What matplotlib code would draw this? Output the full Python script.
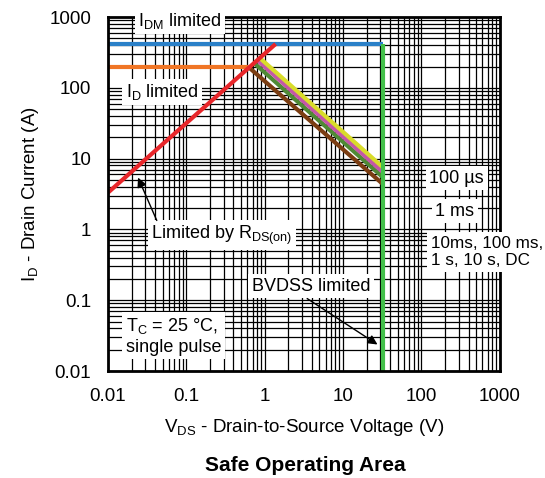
import numpy as np
import matplotlib.pyplot as plt
from matplotlib.ticker import LogLocator, NullFormatter

plt.rcParams['font.family'] = ['Liberation Sans', 'DejaVu Sans']
plt.rcParams['mathtext.fontset'] = 'custom'
plt.rcParams['mathtext.rm'] = 'Liberation Sans'
plt.rcParams['mathtext.it'] = 'Liberation Sans'

# limit lines (V, A)
idm_v = [0.01, 32]
idm_i = [416, 416]
id_v = [0.01, 0.61]
id_i = [200, 200]
rds_v = [0.01, 1.38]
rds_i = [3.3, 416]
bvdss_v = [32, 32]
bvdss_i = [0.01, 416]

# pulse lines: start on the RDS(on)/ID limit, end at BVDSS
pulse_names = ["100 us", "1 ms", "10 ms", "DC"]
pulse_v0 = [0.87, 0.80, 0.71, 0.61]
pulse_i0 = [263, 247, 231, 200]
pulse_v1 = [32, 32, 32, 32]
pulse_i1 = [7.6, 6.5, 5.5, 4.4]
pulse_colors = ["#d9dc2a", "#c457a8", "#4f8a35", "#7b3d12"]

x_ticks = [0.01, 0.1, 1, 10, 100, 1000]
y_ticks = [0.01, 0.1, 1, 10, 100, 1000]

fig = plt.figure(figsize=(5.45, 4.78), dpi=100)
ax = fig.add_axes([0.198, 0.2238, 0.719, 0.7406])
ax.set_xscale('log')
ax.set_yscale('log')
ax.set_xlim(0.01, 1000)
ax.set_ylim(0.01, 1000)

ax.xaxis.set_minor_locator(LogLocator(base=10, subs=np.arange(2, 10)))
ax.yaxis.set_minor_locator(LogLocator(base=10, subs=np.arange(2, 10)))
ax.xaxis.set_minor_formatter(NullFormatter())
ax.yaxis.set_minor_formatter(NullFormatter())
ax.set_xticks(x_ticks)
ax.set_yticks(y_ticks)
ax.set_xticklabels(["0.01", "0.1", "1", "10", "100", "1000"])
ax.set_yticklabels(["0.01", "0.1", "1", "10", "100", "1000"])
ax.tick_params(which='both', length=0, labelsize=13.5)
ax.tick_params(axis='x', pad=12)
ax.tick_params(axis='y', pad=12)
ax.grid(True, which='both', color='black', linewidth=0.9)
ax.set_axisbelow(True)
for s in ax.spines.values():
    s.set_linewidth(2)

lw = 3
ax.plot(idm_v, idm_i, color="#2a80c8", lw=lw, solid_capstyle='butt')
ax.plot(id_v, id_i, color="#f07525", lw=lw, solid_capstyle='butt')
for v0, i0, v1, i1, c in zip(pulse_v0[::-1], pulse_i0[::-1], pulse_v1[::-1],
                             pulse_i1[::-1], pulse_colors[::-1]):
    ax.plot([v0, v1], [i0, i1], color=c, lw=lw, solid_capstyle='butt')
ax.plot(rds_v, rds_i, color="#e8262a", lw=lw, solid_capstyle='butt')
ax.plot(bvdss_v, bvdss_i, color="#43c04a", lw=lw, solid_capstyle='butt')

box = dict(facecolor='white', edgecolor='none', pad=2.5)
fs = 13


def label(x, y, s, ha='center', size=fs):
    ax.text(x, y, s, transform=ax.transAxes, ha=ha, va='center',
            fontsize=size, bbox=box, zorder=6, clip_on=False, linespacing=1.2)


def frac(px, py):
    return ((px - 108) / 392, (371 - py) / 354)


label(*frac(180, 21), r"I$_{\mathrm{DM}}$ limited")
label(*frac(162, 92), r"I$_{\mathrm{D}}$ limited")
label(*frac(222, 235), r"Limited by R$_{\mathrm{DS(on)}}$")
label(*frac(311, 286), "BVDSS limited")
label(*frac(126, 336), "T$_{\mathrm{C}}$ = 25 °C,\nsingle pulse", ha='left')
label(*frac(457, 178), "100 µs")
label(*frac(455, 211), "1 ms")
label(*frac(431, 252), "10ms, 100 ms,\n1 s, 10 s, DC", ha='left', size=12.3)

arrow = dict(arrowstyle='-|>', color='black', lw=1, mutation_scale=14)
ax.annotate("", xy=frac(137, 175), xytext=frac(158, 223),
            xycoords='axes fraction', textcoords='axes fraction',
            arrowprops=arrow, zorder=7)
ax.annotate("", xy=frac(380, 346), xytext=frac(305, 297),
            xycoords='axes fraction', textcoords='axes fraction',
            arrowprops=arrow, zorder=7)

ax.set_xlabel(r"V$_{\mathrm{DS}}$ - Drain-to-Source Voltage (V)", fontsize=13.5, labelpad=9)
ax.set_ylabel(r"I$_{\mathrm{D}}$ - Drain Current (A)", fontsize=13.5, labelpad=6)
fig.text(0.56, 0.006, "Safe Operating Area", ha='center', va='bottom',
         fontsize=15, fontweight='bold')

fig.savefig("out.png", dpi=100)
